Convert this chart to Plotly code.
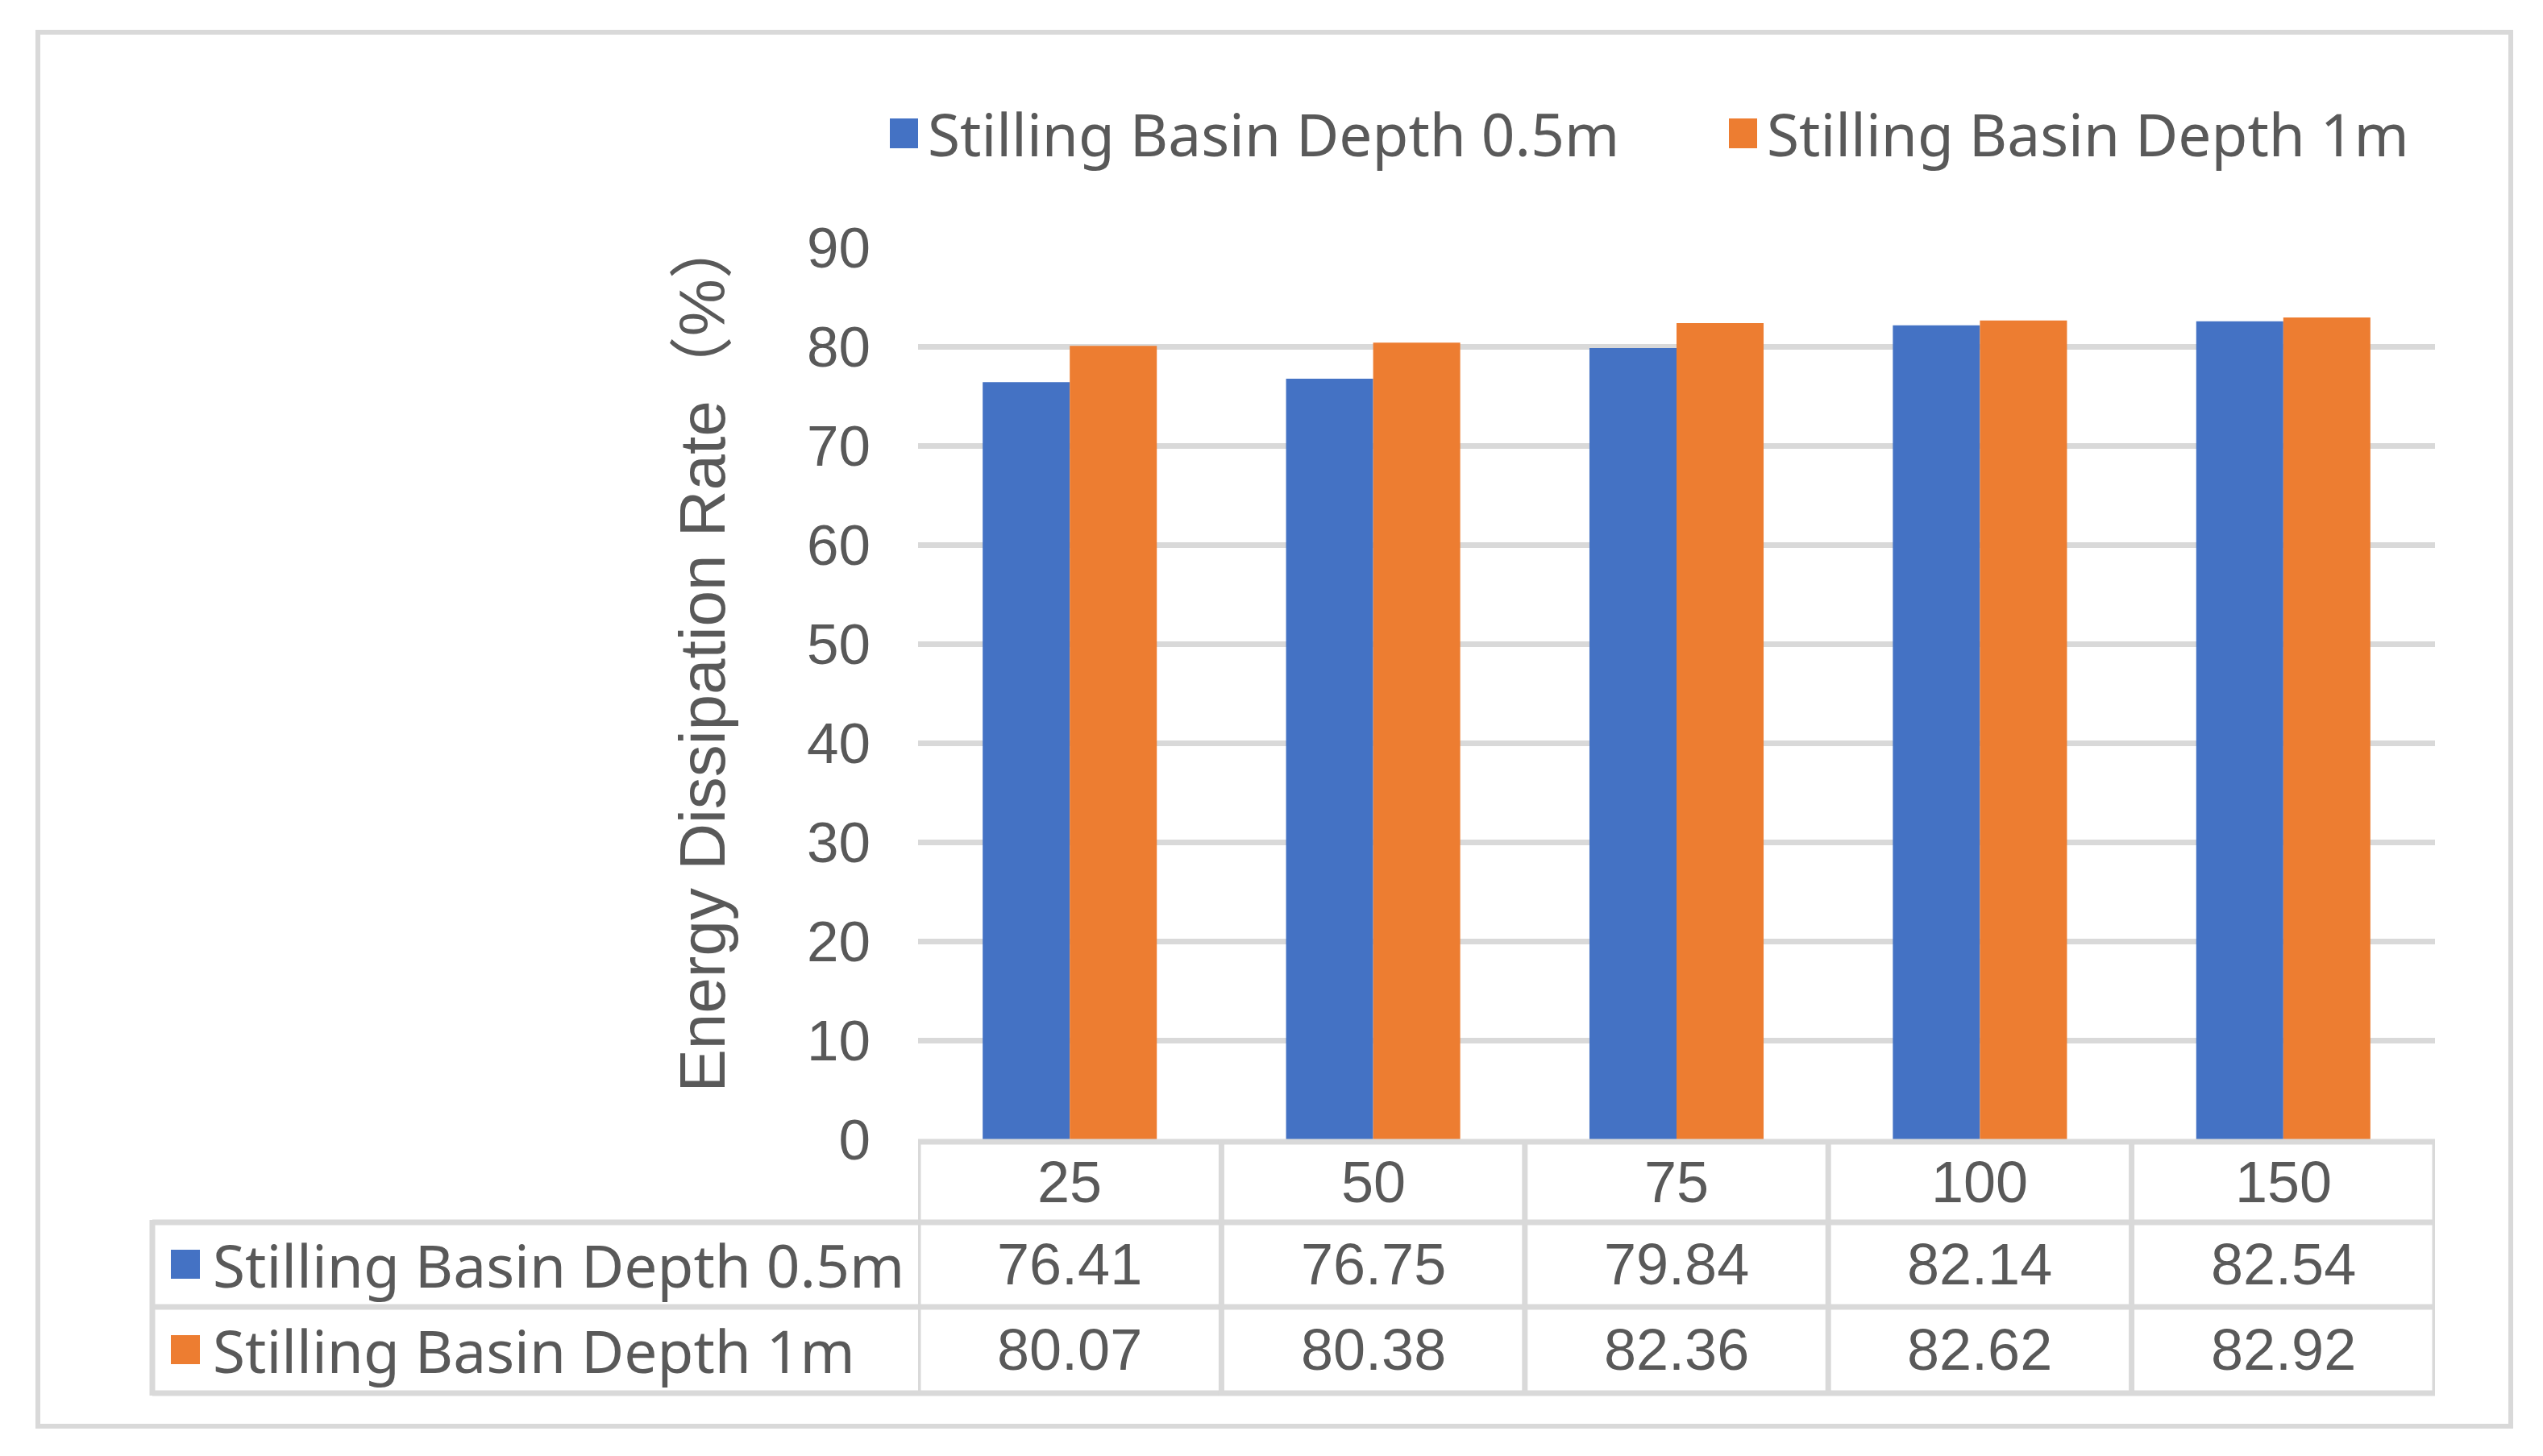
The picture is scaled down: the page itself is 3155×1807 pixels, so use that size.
import plotly.graph_objects as go

# ---------------- data ----------------
categories = ["25", "50", "75", "100", "150"]
series_names = ["Stilling Basin Depth 0.5m", "Stilling Basin Depth 1m"]
depth_05m = [76.41, 76.75, 79.84, 82.14, 82.54]
depth_1m = [80.07, 80.38, 82.36, 82.62, 82.92]
y_ticks = [0, 10, 20, 30, 40, 50, 60, 70, 80, 90]
y_title = "Energy Dissipation Rate（%）"

# ---------------- styling ----------------
W, H = 3155, 1807
L, R, T, B = 1139, 3021, 307, 1414   # plot area in pixels
colors = ["#4472C4", "#ED7D31"]
TXT = "#595959"
GRID = "#D9D9D9"
NUM_FONT = "Liberation Sans, Arial, sans-serif"
LBL_FONT = "Noto Sans, Liberation Sans, sans-serif"


def px_x(p):
    return (p - L) / (R - L)


def px_y(p):
    return (B - p) / (B - T)


fig = go.Figure()
for name, vals, col in zip(series_names, [depth_05m, depth_1m], colors):
    fig.add_trace(go.Bar(x=categories, y=vals, name=name, marker=dict(color=col, line=dict(width=0))))

shapes = []
annotations = []

# outer chart border
shapes.append(dict(type="rect", xref="paper", yref="paper",
                   x0=px_x(47), x1=px_x(3115), y0=px_y(40), y1=px_y(1770),
                   line=dict(color=GRID, width=6), fillcolor="rgba(0,0,0,0)", layer="below"))

# data table grid
row_lines = [1417, 1517, 1622, 1729]
LEFT_TBL = 189
for k, yp in enumerate(row_lines):
    x0 = 0.0 if k == 0 else px_x(LEFT_TBL)
    shapes.append(dict(type="line", xref="paper", yref="paper",
                       x0=x0, x1=1.0, y0=px_y(yp), y1=px_y(yp),
                       line=dict(color=GRID, width=7)))
for i in range(len(categories) + 1):
    shapes.append(dict(type="line", xref="x", yref="paper",
                       x0=i - 0.5, x1=i - 0.5, y0=px_y(row_lines[0] - 3), y1=px_y(row_lines[-1] + 3),
                       line=dict(color=GRID, width=7)))
shapes.append(dict(type="line", xref="paper", yref="paper",
                   x0=px_x(LEFT_TBL), x1=px_x(LEFT_TBL), y0=px_y(row_lines[1] - 3), y1=px_y(row_lines[-1] + 3),
                   line=dict(color=GRID, width=7)))

# header row: categories (placed by category index on the x axis)
for i, c in enumerate(categories):
    annotations.append(dict(x=i, xref="x", y=px_y(1467), yref="paper", text=c, showarrow=False,
                            xanchor="center", yanchor="middle", font=dict(family=NUM_FONT, size=72, color=TXT)))

# value rows
row_centers = [1569, 1675]
for name, vals, col, yc in zip(series_names, [depth_05m, depth_1m], colors, row_centers):
    for i, v in enumerate(vals):
        annotations.append(dict(x=i, xref="x", y=px_y(yc), yref="paper", text=f"{v:.2f}", showarrow=False,
                                xanchor="center", yanchor="middle", font=dict(family=NUM_FONT, size=72, color=TXT)))
    shapes.append(dict(type="rect", xref="paper", yref="paper",
                       x0=px_x(212), x1=px_x(248), y0=px_y(yc - 18), y1=px_y(yc + 18),
                       line=dict(width=0), fillcolor=col))
    annotations.append(dict(x=px_x(262), xref="paper", y=px_y(yc), yref="paper", text=name, showarrow=False,
                            xanchor="left", yanchor="middle", font=dict(family=LBL_FONT, size=73, color=TXT)))

# top legend
legend_pos = [(1104, 1149), (2145, 2190)]
for name, col, (mx, tx) in zip(series_names, colors, legend_pos):
    shapes.append(dict(type="rect", xref="paper", yref="paper",
                       x0=px_x(mx), x1=px_x(mx + 35), y0=px_y(147), y1=px_y(184),
                       line=dict(width=0), fillcolor=col))
    annotations.append(dict(x=px_x(tx), xref="paper", y=px_y(165), yref="paper", text=name, showarrow=False,
                            xanchor="left", yanchor="middle", font=dict(family=LBL_FONT, size=73, color=TXT)))

# y-axis title
annotations.append(dict(x=px_x(871), xref="paper", y=px_y(1358), yref="paper", text=y_title, showarrow=False,
                        textangle=-90, xanchor="center", yanchor="bottom",
                        font=dict(family="Liberation Sans, Noto Sans CJK SC, sans-serif", size=80, color=TXT)))

fig.update_layout(
    width=W, height=H,
    margin=dict(l=L, r=W - R, t=T, b=H - B, pad=0),
    paper_bgcolor="white", plot_bgcolor="white",
    barmode="group", bargap=0.426, bargroupgap=0,
    showlegend=False,
    shapes=shapes, annotations=annotations,
    xaxis=dict(type="category", range=[-0.5, len(categories) - 0.5], showticklabels=False,
               showgrid=False, zeroline=False, showline=False, ticks=""),
    yaxis=dict(range=[0, 90], tickvals=y_ticks, showgrid=True, gridcolor=GRID, gridwidth=7,
               zeroline=False, showline=False, ticks="", ticklabelstandoff=58,
               tickfont=dict(family=NUM_FONT, size=71, color=TXT)),
)

fig.write_html("out.html", config={"displayModeBar": False},
               post_script="document.body.style.margin='0';document.body.style.overflow='hidden';")
